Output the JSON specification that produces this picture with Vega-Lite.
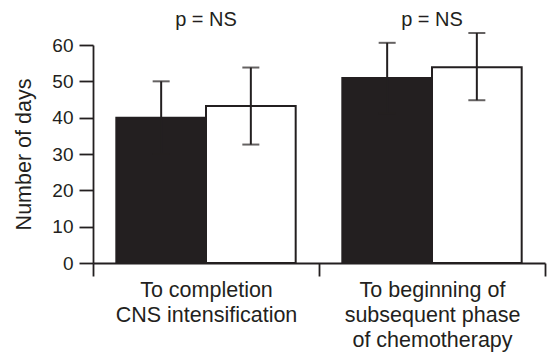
{
  "$schema": "https://vega.github.io/schema/vega-lite/v6.json",
  "width": 452,
  "height": 218,
  "autosize": "none",
  "padding": {"left": 93, "top": 45, "right": 8, "bottom": 92},
  "background": "white",
  "config": {
    "view": {"stroke": null},
    "font": "Liberation Sans",
    "axis": {"domainColor": "#231f20", "tickColor": "#231f20", "labelColor": "#231f20", "titleColor": "#231f20", "domainWidth": 1.8, "tickWidth": 1.8, "grid": false}
  },
  "data": {
    "values": [
      {"phase": "To completion\nCNS intensification", "series": "A", "mean": 40, "lo": 30, "hi": 50},
      {"phase": "To completion\nCNS intensification", "series": "B", "mean": 43.2, "lo": 32.6, "hi": 53.8},
      {"phase": "To beginning of\nsubsequent phase\nof chemotherapy", "series": "A", "mean": 50.9, "lo": 41.2, "hi": 60.6},
      {"phase": "To beginning of\nsubsequent phase\nof chemotherapy", "series": "B", "mean": 53.9, "lo": 44.8, "hi": 63.3}
    ]
  },
  "encoding": {
    "x": {
      "field": "phase", "type": "nominal", "sort": null,
      "scale": {"paddingInner": 0, "paddingOuter": 0},
      "axis": {"title": null, "labelAngle": 0, "tickBand": "extent", "tickSize": 13, "labelFontSize": 21.5, "labelLineHeight": 25, "labelPadding": 3, "labelLimit": 400, "labelExpr": "split(datum.label, '\\n')", "labelBaseline": "top"}
    }
  },
  "layer": [
    {
      "mark": {"type": "bar", "stroke": "#231f20", "strokeWidth": 2},
      "encoding": {
        "xOffset": {"field": "series", "type": "nominal", "scale": {"paddingOuter": 0.26, "paddingInner": 0}},
        "y": {
          "field": "mean", "type": "quantitative",
          "scale": {"domain": [0, 60], "nice": false},
          "axis": {"title": "Number of days", "values": [0, 10, 20, 30, 40, 50, 60], "labelOverlap": false, "tickSize": 14, "labelFontSize": 19, "labelPadding": 6, "titleFontSize": 21.5, "titleFontWeight": "normal", "titlePadding": 16}
        },
        "fill": {"field": "series", "type": "nominal", "scale": {"domain": ["A", "B"], "range": ["#231f20", "#ffffff"]}, "legend": null}
      }
    },
    {
      "mark": {"type": "rule", "color": "#231f20", "strokeWidth": 2},
      "encoding": {
        "xOffset": {"field": "series", "type": "nominal"},
        "y": {"field": "lo", "type": "quantitative", "axis": {"title": "Number of days", "values": [0, 10, 20, 30, 40, 50, 60], "labelOverlap": false, "tickSize": 14, "labelFontSize": 19, "labelPadding": 6, "titleFontSize": 21.5, "titleFontWeight": "normal", "titlePadding": 16}},
        "y2": {"field": "hi"}
      }
    },
    {
      "mark": {"type": "tick", "color": "#231f20", "thickness": 2, "size": 17},
      "encoding": {
        "xOffset": {"field": "series", "type": "nominal"},
        "y": {"field": "hi", "type": "quantitative", "axis": {"title": "Number of days", "values": [0, 10, 20, 30, 40, 50, 60], "labelOverlap": false, "tickSize": 14, "labelFontSize": 19, "labelPadding": 6, "titleFontSize": 21.5, "titleFontWeight": "normal", "titlePadding": 16}}
      }
    },
    {
      "mark": {"type": "tick", "color": "#231f20", "thickness": 2, "size": 17},
      "encoding": {
        "xOffset": {"field": "series", "type": "nominal"},
        "y": {"field": "lo", "type": "quantitative", "axis": {"title": "Number of days", "values": [0, 10, 20, 30, 40, 50, 60], "labelOverlap": false, "tickSize": 14, "labelFontSize": 19, "labelPadding": 6, "titleFontSize": 21.5, "titleFontWeight": "normal", "titlePadding": 16}}
      }
    },
    {
      "transform": [{"filter": "datum.series == 'A'"}],
      "mark": {"type": "text", "fontSize": 20, "color": "#231f20", "baseline": "middle", "align": "center"},
      "encoding": {
        "y": {"datum": 67, "type": "quantitative", "axis": {"title": "Number of days", "values": [0, 10, 20, 30, 40, 50, 60], "labelOverlap": false, "tickSize": 14, "labelFontSize": 19, "labelPadding": 6, "titleFontSize": 21.5, "titleFontWeight": "normal", "titlePadding": 16}},
        "text": {"value": "p = NS"}
      }
    }
  ]
}
